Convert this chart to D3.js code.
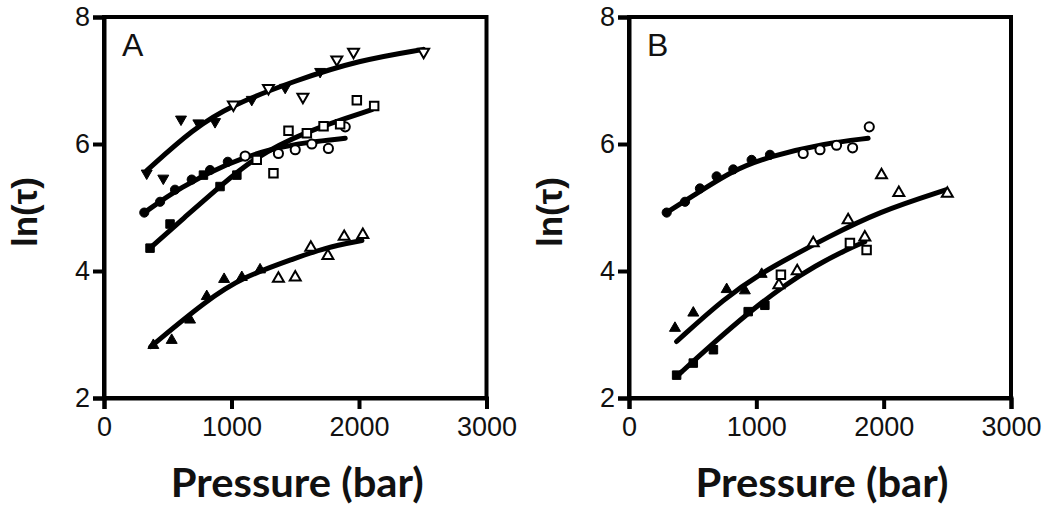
<!DOCTYPE html>
<html><head><meta charset="utf-8">
<script src="https://cdn.jsdelivr.net/npm/d3@7"></script>
<style>html,body{margin:0;padding:0;background:#fff;} svg{display:block;}</style>
</head><body>
<svg id="chart" width="1050" height="515"></svg>
<script>
// ---------- tick labels & titles ----------
const xTicks = [0, 1000, 2000, 3000];
const yTicks = [2, 4, 6, 8];
const xTitle = "Pressure (bar)";
const yTitle = "ln(τ)";

// ---------- Panel A data [pressure, ln(tau)] ----------
const aDownFilled = [[335,5.54],[465,5.46],[604,6.39],[740,6.33],[871,6.35],[1159,6.70],[1421,6.89],[1695,7.14]];
const aDownOpen   = [[1015,6.62],[1290,6.88],[1560,6.74],[1826,7.33],[1957,7.45],[2507,7.45]];
const aDownFit    = [[335,5.58],[700,6.24],[1000,6.61],[1500,7.00],[2000,7.32],[2505,7.49]];

const aCircFilled = [[316,4.92],[440,5.09],[557,5.28],[688,5.44],[832,5.59],[971,5.72]];
const aCircOpen   = [[1107,5.81],[1368,5.85],[1500,5.91],[1630,6.00],[1760,5.93],[1892,6.27]];
const aCircFit    = [[316,4.92],[600,5.32],[971,5.70],[1300,5.92],[1600,6.03],[1892,6.09]];

const aSqFilled   = [[361,4.36],[518,4.74],[780,5.51],[910,5.33],[1042,5.51]];
const aSqOpen     = [[1198,5.75],[1329,5.54],[1447,6.21],[1591,6.17],[1722,6.28],[1852,6.31],[1983,6.69],[2119,6.60]];
const aSqFit      = [[361,4.36],[640,4.86],[910,5.33],[1159,5.76],[1578,6.20],[2101,6.54]];

const aUpFilled   = [[387,2.83],[531,2.91],[675,3.23],[806,3.60],[942,3.87],[1081,3.90],[1224,4.02]];
const aUpOpen     = [[1368,3.88],[1500,3.90],[1622,4.37],[1756,4.24],[1884,4.54],[2030,4.57]];
const aUpFit      = [[367,2.81],[806,3.54],[1094,3.91],[1500,4.20],[1721,4.36],[2023,4.48]];

// ---------- Panel B data ----------
const bCircFilled = [[296,4.92],[440,5.09],[557,5.30],[688,5.49],[819,5.60],[963,5.75],[1107,5.83]];
const bCircOpen   = [[1368,5.85],[1500,5.91],[1630,5.98],[1756,5.94],[1887,6.27]];
const bCircFit    = [[296,4.92],[492,5.17],[819,5.59],[1094,5.80],[1540,6.01],[1878,6.09]];

const bUpFilled   = [[361,3.10],[505,3.34],[767,3.71],[910,3.69],[1042,3.95]];
const bUpOpen     = [[1177,3.78],[1321,4.00],[1447,4.44],[1721,4.80],[1852,4.53],[1983,5.51],[2119,5.23],[2500,5.22]];
const bUpFit      = [[374,2.89],[754,3.58],[1042,3.97],[1277,4.23],[1540,4.51],[1957,4.93],[2494,5.28]];

const bSqFilled   = [[374,2.36],[505,2.55],[663,2.76],[936,3.36],[1067,3.46]];
const bSqOpen     = [[1193,3.94],[1735,4.44],[1866,4.33]];
const bSqFit      = [[374,2.34],[649,2.84],[936,3.34],[1224,3.78],[1460,4.08],[1721,4.35],[1852,4.46]];

// ---------- layout ----------
const panels = [
  {label:"A", left:104, right:486.5, series:[
    {shape:"down", filled:aDownFilled, open:aDownOpen, fit:aDownFit},
    {shape:"circle", filled:aCircFilled, open:aCircOpen, fit:aCircFit},
    {shape:"square", filled:aSqFilled, open:aSqOpen, fit:aSqFit},
    {shape:"up", filled:aUpFilled, open:aUpOpen, fit:aUpFit}]},
  {label:"B", left:629, right:1011, series:[
    {shape:"circle", filled:bCircFilled, open:bCircOpen, fit:bCircFit},
    {shape:"up", filled:bUpFilled, open:bUpOpen, fit:bUpFit},
    {shape:"square", filled:bSqFilled, open:bSqOpen, fit:bSqFit}]}
];
const plotTop = 17, plotBottom = 398;

const svg = d3.select("#chart");
const symbolFor = {
  up: d3.symbol().type(d3.symbolTriangle).size(52),
  down: d3.symbol().type(d3.symbolTriangle).size(52),
  square: d3.symbol().type(d3.symbolSquare).size(72),
  circle: d3.symbol().type(d3.symbolCircle).size(66)
};

panels.forEach(p => {
  const x = d3.scaleLinear().domain([0, 3000]).range([p.left, p.right]);
  const y = d3.scaleLinear().domain([2, 8]).range([plotBottom, plotTop]);
  const g = svg.append("g");

  // frame
  g.append("rect").attr("x", p.left).attr("y", plotTop)
    .attr("width", p.right - p.left).attr("height", plotBottom - plotTop)
    .attr("fill", "none").attr("stroke", "#000").attr("stroke-width", 4);

  // axes
  const xa = g.append("g").attr("transform", `translate(0,${plotBottom})`)
    .call(d3.axisBottom(x).tickValues(xTicks).tickSize(11).tickPadding(8).tickFormat(d3.format("d")));
  const ya = g.append("g").attr("transform", `translate(${p.left},0)`)
    .call(d3.axisLeft(y).tickValues(yTicks).tickSize(11).tickPadding(3).tickFormat(d3.format("d")));
  [xa, ya].forEach(a => {
    a.select(".domain").attr("stroke", "#000").attr("stroke-width", 4);
    a.selectAll(".tick line").attr("stroke", "#000").attr("stroke-width", 4);
    a.selectAll(".tick text").attr("fill", "#111")
      .style("font-family", "'Liberation Sans', Arial, sans-serif").style("font-size", "27px");
  });

  // fit lines
  const line = d3.line().x(d => x(d[0])).y(d => y(d[1])).curve(d3.curveBasis);
  p.series.forEach(s => {
    g.append("path").attr("d", line(s.fit)).attr("fill", "none")
      .attr("stroke", "#000").attr("stroke-width", 5).attr("stroke-linecap", "round");
  });

  // markers
  p.series.forEach(s => {
    const rot = s.shape === "down" ? " rotate(180)" : "";
    g.selectAll(null).data(s.filled).enter().append("path")
      .attr("d", symbolFor[s.shape]())
      .attr("transform", d => `translate(${x(d[0])},${y(d[1])})${rot}`)
      .attr("fill", "#000").attr("stroke", "#000").attr("stroke-width", 1);
    g.selectAll(null).data(s.open).enter().append("path")
      .attr("d", symbolFor[s.shape]())
      .attr("transform", d => `translate(${x(d[0])},${y(d[1])})${rot}`)
      .attr("fill", "#fff").attr("stroke", "#000").attr("stroke-width", 2);
  });

  // panel label
  g.append("text").attr("x", p.left + 18).attr("y", 56).text(p.label)
    .style("font-family", "'Liberation Sans', Arial, sans-serif").style("font-size", "32px").attr("fill", "#111");

  // y title
  g.append("text")
    .attr("transform", `translate(${p.left - 67},212) rotate(-90)`)
    .attr("text-anchor", "middle").text(yTitle)
    .style("font-family", "'Liberation Sans', Arial, sans-serif").style("font-weight", "bold")
    .style("font-size", "35px").attr("fill", "#111");

  // x title
  g.append("text")
    .attr("x", (p.left + p.right) / 2 + 2).attr("y", 497)
    .attr("text-anchor", "middle").text(xTitle)
    .attr("textLength", 253).attr("lengthAdjust", "spacingAndGlyphs")
    .style("font-family", "Lato, 'Open Sans', sans-serif").style("font-weight", "bold")
    .style("font-size", "40px").attr("fill", "#111");
});
</script>
</body></html>
